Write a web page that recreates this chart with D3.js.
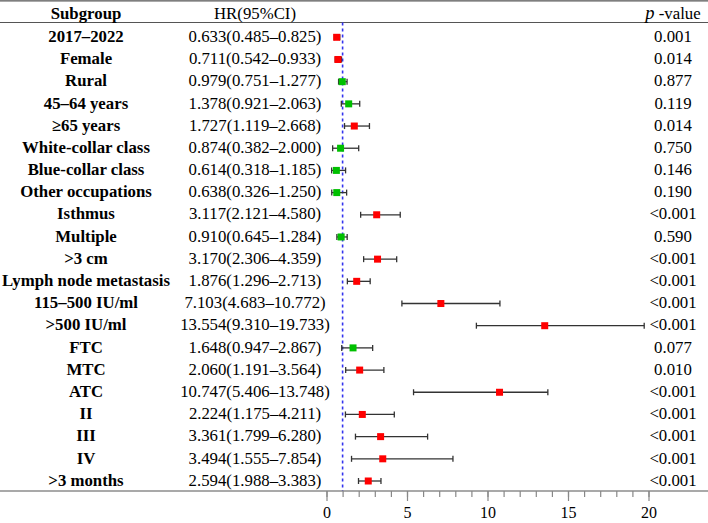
<!DOCTYPE html>
<html>
<head>
<meta charset="utf-8">
<script src="https://cdn.jsdelivr.net/npm/d3@7"></script>
<style>
    body { margin: 0; background: #fff; }
    svg { display: block; font-family: "Liberation Serif", "Times New Roman", serif; }
</style>
</head>
<body>
<div id="viz_canvas"></div>
<script>
"use strict";

var subgroups = ["2017\u20132022", "Female", "Rural", "45\u201364 years", "\u226565 years",
    "White-collar class", "Blue-collar class", "Other occupations", "Isthmus", "Multiple",
    ">3 cm", "Lymph node metastasis", "115\u2013500 IU/ml", ">500 IU/ml", "FTC", "MTC",
    "ATC", "II", "III", "IV", ">3 months"];
var hr = [0.633, 0.711, 0.979, 1.378, 1.727, 0.874, 0.614, 0.638, 3.117, 0.910,
    3.170, 1.876, 7.103, 13.554, 1.648, 2.060, 10.747, 2.224, 3.361, 3.494, 2.594];
var lower = [0.485, 0.542, 0.751, 0.921, 1.119, 0.382, 0.318, 0.326, 2.121, 0.645,
    2.306, 1.296, 4.683, 9.310, 0.947, 1.191, 5.406, 1.175, 1.799, 1.555, 1.988];
var upper = [0.825, 0.933, 1.277, 2.063, 2.668, 2.000, 1.185, 1.250, 4.580, 1.284,
    4.359, 2.713, 10.772, 19.733, 2.867, 3.564, 13.748, 4.211, 6.280, 7.854, 3.383];
var pValues = ["0.001", "0.014", "0.877", "0.119", "0.014", "0.750", "0.146", "0.190",
    "<0.001", "0.590", "<0.001", "<0.001", "<0.001", "<0.001", "0.077", "0.010",
    "<0.001", "<0.001", "<0.001", "<0.001", "<0.001"];
var majorTicks = [0, 5, 10, 15, 20];

var width = 708, height = 523;
var fontSize = "16.8px";
var svg = d3.select("#viz_canvas").append("svg")
    .attr("width", width).attr("height", height);

var x = d3.scaleLinear().domain([0, 20]).range([326.5, 648.5]);
var y = d3.scalePoint().domain(d3.range(subgroups.length)).range([37.3, 481]);
var axisY = 491;
var colLabel = 86, colHR = 255, colP = 673;

var rows = subgroups.map(function (s, i) {
    return { label: s, hr: hr[i], lo: lower[i], hi: upper[i], p: pValues[i] };
});

function fmt(v) { return v.toFixed(3); }
function isSig(p) { return p.charAt(0) === "<" || +p < 0.05; }

// table rules
[0.8, 22.5].forEach(function (yy) {
    svg.append("line").attr("x1", 0).attr("x2", width)
        .attr("y1", yy).attr("y2", yy)
        .attr("stroke", "#555").attr("stroke-width", 1.2);
});

// header
var header = svg.append("g").attr("font-size", fontSize).attr("fill", "#000");
header.append("text").attr("x", colLabel).attr("y", 13).attr("dy", "0.33em")
    .attr("text-anchor", "middle").attr("font-weight", "bold").text("Subgroup");
header.append("text").attr("x", colHR).attr("y", 13).attr("dy", "0.33em")
    .attr("text-anchor", "middle").text("HR(95%CI)");
var pHead = header.append("text").attr("x", colP).attr("y", 13).attr("dy", "0.33em")
    .attr("text-anchor", "middle");
pHead.append("tspan").attr("font-style", "italic").attr("font-size", "18.5px").text("p");
pHead.append("tspan").text(" -value");

// reference line at HR = 1
svg.append("line")
    .attr("x1", x(1)).attr("x2", x(1))
    .attr("y1", 22.5).attr("y2", axisY)
    .attr("stroke", "#3333ee").attr("stroke-width", 1.6)
    .attr("stroke-dasharray", "3,3");

var row = svg.append("g").selectAll("g")
    .data(rows).enter().append("g")
    .attr("transform", function (d, i) { return "translate(0," + y(i) + ")"; });

row.append("text")
    .attr("x", colLabel).attr("dy", "0.28em")
    .attr("text-anchor", "middle").attr("font-size", fontSize).attr("font-weight", "bold")
    .text(function (d) { return d.label; });

row.append("text")
    .attr("x", colHR).attr("dy", "0.28em")
    .attr("text-anchor", "middle").attr("font-size", fontSize)
    .text(function (d) { return fmt(d.hr) + "(" + fmt(d.lo) + "\u2013" + fmt(d.hi) + ")"; });

row.append("text")
    .attr("x", colP).attr("dy", "0.28em")
    .attr("text-anchor", "middle").attr("font-size", fontSize)
    .text(function (d) { return d.p; });

// whiskers
row.append("line")
    .attr("x1", function (d) { return x(d.lo); })
    .attr("x2", function (d) { return x(d.hi); })
    .attr("stroke", "#333").attr("stroke-width", 1.3);
["lo", "hi"].forEach(function (k) {
    row.append("line")
        .attr("x1", function (d) { return x(d[k]); })
        .attr("x2", function (d) { return x(d[k]); })
        .attr("y1", -3).attr("y2", 3)
        .attr("stroke", "#333").attr("stroke-width", 1.3);
});

row.append("rect")
    .attr("x", function (d) { return x(d.hr) - 3.5; })
    .attr("y", -3.5).attr("width", 7).attr("height", 7)
    .attr("fill", function (d) { return isSig(d.p) ? "#ff0000" : "#00c000"; });

// x axis
svg.append("line").attr("x1", 0).attr("x2", width)
    .attr("y1", axisY).attr("y2", axisY)
    .attr("stroke", "#555").attr("stroke-width", 1.2);

var minorAxis = svg.append("g")
    .attr("transform", "translate(0," + axisY + ")")
    .call(d3.axisBottom(x).tickValues(d3.range(0, 21)).tickSize(6).tickFormat(""));
var majorAxis = svg.append("g")
    .attr("transform", "translate(0," + axisY + ")")
    .call(d3.axisBottom(x).tickValues(majorTicks).tickSize(10).tickPadding(6));

[minorAxis, majorAxis].forEach(function (a) {
    a.select(".domain").remove();
    a.selectAll(".tick line").attr("stroke", "#888").attr("stroke-width", 1.2);
});
majorAxis.selectAll(".tick text")
    .attr("font-family", "Liberation Serif, Times New Roman, serif")
    .attr("font-size", "16px").attr("fill", "#000");
</script>
</body>
</html>
